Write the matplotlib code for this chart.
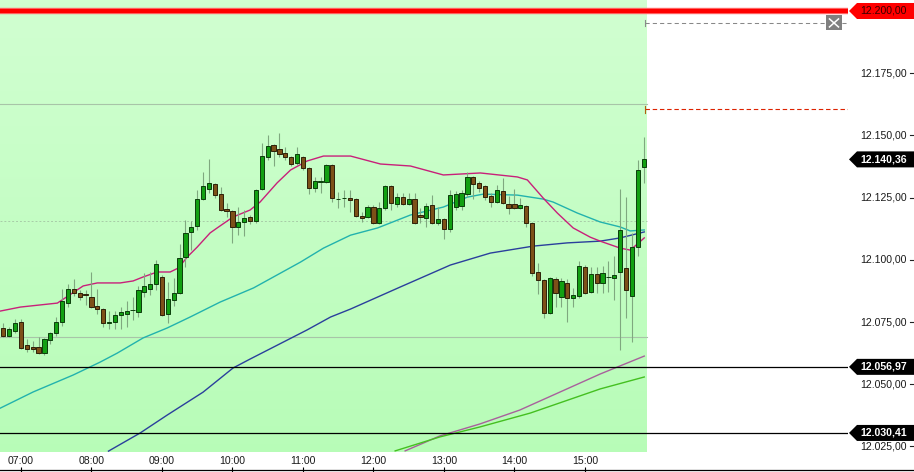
import numpy as np
import pandas as pd
import matplotlib
matplotlib.use('Agg')
import matplotlib.pyplot as plt
import matplotlib.transforms as mtransforms
from matplotlib.patches import Polygon, Rectangle
from matplotlib.lines import Line2D

plt.rcParams['font.family'] = ['Liberation Sans', 'DejaVu Sans']

# ---------------- data ----------------
start_time = '06:45'
bar_minutes = 5

opens = [12072.4, 12069.2, 12071.2, 12074.8, 12065.6, 12064.8, 12064.8, 12062.4, 12067.6, 12070.4,
         12074.8, 12082.8, 12088.4, 12086.8, 12086.2, 12085.2, 12081.6, 12080.4, 12074.4, 12075.2,
         12078.0, 12078.4, 12079.8, 12079.2, 12087.2, 12088.4, 12090.4, 12093.2, 12078.4, 12084.0,
         12086.8, 12101.2, 12111.2, 12113.6, 12124.4, 12128.4, 12130.4, 12126.4, 12120.4, 12119.6,
         12113.2, 12115.2, 12117.2, 12115.6, 12128.4, 12141.2, 12146.0, 12144.4, 12142.8, 12141.2,
         12138.8, 12141.2, 12136.8, 12128.8, 12131.2, 12131.2, 12138.0, 12124.4, 12124.8, 12124.8,
         12124.4, 12117.6, 12117.2, 12121.2, 12114.8, 12120.8, 12129.6, 12122.4, 12125.2, 12122.4,
         12124.4, 12118.0, 12116.8, 12122.0, 12114.8, 12116.4, 12112.4, 12121.2, 12121.6, 12126.4,
         12133.2, 12130.8, 12129.6, 12125.6, 12123.2, 12127.6, 12122.4, 12122.4, 12120.8, 12121.6,
         12114.8, 12095.2, 12092.0, 12078.8, 12092.4, 12085.2, 12090.8, 12084.8, 12085.6, 12097.2,
         12087.2, 12094.4, 12090.8, 12093.2, 12092.8, 12095.2, 12096.8, 12085.6, 12105.2, 12137.2]
highs = [12074.4, 12072.8, 12076.4, 12076.4, 12068.0, 12067.2, 12068.8, 12068.4, 12070.8, 12077.2,
         12088.4, 12090.4, 12092.4, 12088.0, 12088.0, 12095.2, 12088.4, 12080.8, 12079.6, 12079.6,
         12081.2, 12083.6, 12085.2, 12089.6, 12094.8, 12095.2, 12100.0, 12094.0, 12091.2, 12092.8,
         12106.4, 12116.0, 12115.6, 12128.0, 12135.2, 12140.4, 12130.8, 12129.2, 12122.8, 12120.0,
         12121.2, 12120.0, 12118.0, 12128.4, 12146.8, 12150.0, 12146.4, 12150.8, 12145.2, 12141.6,
         12145.2, 12141.6, 12137.2, 12133.2, 12133.2, 12138.4, 12138.4, 12127.2, 12128.0, 12128.0,
         12124.8, 12119.2, 12122.0, 12122.0, 12123.2, 12130.0, 12130.0, 12126.8, 12126.8, 12126.8,
         12126.8, 12120.8, 12122.8, 12126.0, 12121.2, 12116.8, 12128.0, 12127.6, 12128.0, 12135.2,
         12133.6, 12131.6, 12130.0, 12126.8, 12130.0, 12132.8, 12125.6, 12128.4, 12124.8, 12122.0,
         12115.2, 12098.8, 12092.4, 12093.2, 12093.2, 12092.8, 12092.4, 12088.8, 12099.6, 12098.0,
         12097.2, 12097.2, 12097.6, 12099.6, 12101.6, 12128.4, 12125.2, 12110.8, 12140.0, 12149.2]
lows = [12068.8, 12068.8, 12070.4, 12064.0, 12062.8, 12062.8, 12062.0, 12061.6, 12066.0, 12069.2,
        12073.2, 12081.2, 12085.6, 12084.0, 12082.0, 12080.8, 12078.4, 12072.8, 12072.0, 12072.0,
        12072.0, 12072.8, 12076.0, 12077.2, 12085.2, 12086.0, 12088.0, 12077.6, 12074.4, 12081.6,
        12086.4, 12097.2, 12104.0, 12112.0, 12124.0, 12126.8, 12124.8, 12119.6, 12117.2, 12106.8,
        12110.0, 12109.6, 12114.4, 12114.8, 12128.0, 12140.0, 12137.6, 12141.2, 12140.0, 12137.6,
        12138.0, 12136.0, 12126.4, 12127.2, 12126.8, 12130.8, 12123.2, 12120.8, 12121.2, 12119.2,
        12117.2, 12115.2, 12116.8, 12114.4, 12114.4, 12120.0, 12120.0, 12121.2, 12122.0, 12122.0,
        12114.4, 12114.8, 12113.2, 12114.4, 12114.0, 12108.4, 12111.2, 12120.0, 12120.0, 12125.2,
        12124.4, 12127.2, 12124.0, 12121.2, 12122.8, 12122.4, 12118.4, 12120.4, 12120.4, 12113.2,
        12093.6, 12086.4, 12076.8, 12078.4, 12081.2, 12081.2, 12075.2, 12081.2, 12084.8, 12086.4,
        12086.8, 12086.8, 12086.8, 12087.2, 12084.0, 12063.6, 12076.8, 12066.8, 12101.6, 12130.8]
closes = [12069.2, 12072.0, 12074.4, 12064.4, 12064.0, 12064.0, 12062.4, 12068.0, 12070.4, 12074.8,
          12083.6, 12088.4, 12086.8, 12085.2, 12086.0, 12081.2, 12080.4, 12074.4, 12075.2, 12078.0,
          12079.2, 12079.6, 12080.0, 12088.0, 12089.6, 12090.4, 12098.4, 12078.0, 12084.4, 12086.8,
          12100.8, 12110.8, 12113.2, 12124.4, 12129.6, 12130.8, 12126.0, 12120.0, 12119.6, 12113.2,
          12115.2, 12116.8, 12115.6, 12128.0, 12141.6, 12145.6, 12143.6, 12142.4, 12141.2, 12138.4,
          12142.4, 12136.8, 12128.8, 12131.6, 12131.6, 12138.0, 12124.8, 12124.4, 12124.8, 12124.0,
          12117.6, 12116.8, 12121.2, 12114.8, 12120.8, 12129.6, 12122.8, 12125.2, 12122.4, 12124.4,
          12114.8, 12117.2, 12121.6, 12114.8, 12116.4, 12112.4, 12126.0, 12126.4, 12126.8, 12133.2,
          12130.4, 12128.8, 12125.2, 12123.2, 12128.0, 12122.8, 12120.8, 12120.8, 12122.0, 12114.8,
          12094.8, 12092.0, 12078.8, 12092.8, 12086.8, 12091.6, 12084.8, 12086.0, 12097.6, 12086.8,
          12094.4, 12090.8, 12094.8, 12093.2, 12094.0, 12112.0, 12088.0, 12105.2, 12136.0, 12140.36]

# moving averages (bar position, price)
ma_fast_x = [-0.5, 2.9, 9.2, 13.6, 16.0, 19.9, 22.1, 23.8, 26.2, 28.4, 29.8, 31.3, 33.0, 35.2, 36.4,
             39.1, 42.0, 43.7, 46.6, 48.9, 51.7, 54.5, 59.1, 64.2, 69.3, 74.9, 81.2, 87.5, 89.2, 91.9,
             94.3, 97.0, 99.9, 101.6, 105.0, 106.7, 108.1, 109.1]
ma_fast_y = [12079.4, 12081.0, 12082.6, 12089.5, 12090.7, 12090.7, 12091.5, 12093.1, 12095.1, 12095.1,
             12096.7, 12101.1, 12105.1, 12110.8, 12112.8, 12117.2, 12120.0, 12123.2, 12130.9, 12136.1,
             12139.7, 12141.7, 12141.7, 12138.5, 12137.7, 12134.1, 12134.9, 12133.3, 12132.1, 12124.8,
             12118.8, 12112.8, 12109.1, 12107.5, 12104.7, 12103.9, 12106.7, 12108.8]
ma_mid_x = [-0.5, 5.1, 11.9, 16.5, 19.4, 23.8, 27.9, 31.8, 36.9, 42.6, 46.6, 50.6, 54.5, 59.1, 63.7,
            69.3, 74.9, 79.0, 81.7, 87.5, 91.9, 93.6, 97.7, 101.6, 105.0, 106.7, 109.1]
ma_mid_y = [12040.4, 12046.9, 12053.7, 12058.9, 12062.5, 12068.6, 12072.6, 12077.0, 12083.0, 12088.7,
            12093.9, 12099.1, 12104.7, 12109.9, 12112.8, 12118.0, 12121.2, 12125.2, 12126.4, 12126.0,
            12124.4, 12123.2, 12118.8, 12115.2, 12113.2, 12111.6, 12112.0]
ma_slow_x = [17.9, 23.3, 27.9, 34.0, 39.1, 42.0, 51.7, 55.7, 59.1, 67.6, 76.1, 82.9, 90.2, 96.0,
             101.6, 105.0, 109.1]
ma_slow_y = [12023.1, 12030.4, 12037.6, 12046.8, 12056.5, 12060.1, 12071.8, 12077.0, 12080.2,
             12089.1, 12097.9, 12102.7, 12105.5, 12106.8, 12107.5, 12108.8, 12111.2]
ma_long1_x = [68.4, 74.3, 81.1, 87.9, 94.8, 101.6, 109.1]
ma_long1_y = [12023.2, 12029.2, 12034.0, 12039.6, 12046.9, 12054.1, 12061.3]
ma_long2_x = [66.7, 74.3, 81.1, 89.7, 101.6, 109.1]
ma_long2_y = [12023.2, 12028.8, 12032.8, 12038.4, 12048.1, 12052.9]

price_ticks = [12025, 12050, 12075, 12100, 12125, 12150, 12175, 12200]
red_level = 12200.0
order_level_grey = 12195.2
order_level_red = 12160.6
black_levels = [12056.97, 12030.41]
last_price = closes[-1]
faint_solid_levels = [12162.6, 12069.0]
faint_dotted_level = 12115.6

# ---------------- layout ----------------
W, H = 914, 472
fig = plt.figure(figsize=(W / 100, H / 100), dpi=100)
PLOT_R = 848
PLOT_B = 20
ax = fig.add_axes([0, PLOT_B / H, PLOT_R / W, (H - PLOT_B) / H])
ax.set_axis_off()
step = 5.875
x0px = 3.3
idx = np.arange(len(opens))
ax.set_xlim(-x0px / step, (PLOT_R - x0px) / step)
y_top, y_bot = 12204.42, 12022.75
ax.set_ylim(y_bot, y_top)
ppx = (y_top - y_bot) / (H - PLOT_B)  # price per pixel

trf = mtransforms.blended_transform_factory(fig.transFigure, ax.transData)

# green session background with gradient
green_end = idx[-1] + 0.55
top_c = np.array([0.82, 1.0, 0.82])
bot_c = np.array([0.72, 0.99, 0.72])
t = np.linspace(0, 1, 256).reshape(-1, 1, 1)
grad = top_c * (1 - t) + bot_c * t
ax.imshow(grad, extent=[-x0px / step, green_end, y_bot, y_top], aspect='auto',
          origin='upper', zorder=0, interpolation='bilinear')

# faint lines in the session area
for lv in faint_solid_levels:
    ax.plot([-x0px / step, green_end], [lv, lv], color='#a8c4a8', lw=0.8, zorder=1)
ax.plot([-x0px / step, green_end], [faint_dotted_level] * 2, color='#a8cca8', lw=0.7,
        ls=(0, (2, 2)), zorder=1)

# moving averages
ax.plot(ma_slow_x, ma_slow_y, color='#2a3f9c', lw=1.0, zorder=2)
ax.plot(ma_mid_x, ma_mid_y, color='#22b2ad', lw=1.0, zorder=2)
ax.plot(ma_fast_x, ma_fast_y, color='#c8207a', lw=1.0, zorder=2)
ax.plot(ma_long1_x, ma_long1_y, color='#a8609c', lw=1.0, zorder=2)
ax.plot(ma_long2_x, ma_long2_y, color='#44c020', lw=1.0, zorder=2)

# candles
o = np.array(opens); h = np.array(highs); l = np.array(lows); c = np.array(closes)
up = c >= o
ax.vlines(idx, l, h, color='#7fa87f', lw=0.8, zorder=3)
body_w = 4.2 / step
ax.bar(idx[up], np.maximum(c[up] - o[up], 0.01), bottom=o[up], width=body_w,
       color='#12a012', edgecolor='#0b3d0b', lw=0.7, zorder=4)
ax.bar(idx[~up], np.maximum(o[~up] - c[~up], 0.01), bottom=c[~up], width=body_w,
       color='#7d5018', edgecolor='#2e2008', lw=0.7, zorder=4)

# horizontal levels
ax.axhline(red_level, color='#ff6a6a', lw=4.6, zorder=5)
ax.axhline(red_level, color='#ff0000', lw=3.0, zorder=5)
for lv in black_levels:
    ax.axhline(lv, color='black', lw=0.9, zorder=5)

x_ord0 = green_end - 0.35
ax.plot([x_ord0, ax.get_xlim()[1]], [order_level_grey] * 2, color='#888888', lw=0.75,
        ls=(0, (4, 3)), zorder=5)
ax.plot([x_ord0, x_ord0], [order_level_grey - 3 * ppx, order_level_grey + 3 * ppx],
        color='#8a8a8a', lw=0.8, zorder=5)
ax.plot([x_ord0, ax.get_xlim()[1]], [order_level_red] * 2, color='#dd2200', lw=0.8,
        ls=(0, (4, 2.5)), zorder=5)
ax.plot([x_ord0, x_ord0], [order_level_red - 3.5 * ppx, order_level_red + 3.5 * ppx],
        color='#b06010', lw=0.8, zorder=5)

# close button on the order line
bx0, bx1 = 826 / W, 842 / W
by0, by1 = order_level_grey - 7.5 * ppx, order_level_grey + 7.5 * ppx
ax.add_patch(Rectangle((bx0, by0), bx1 - bx0, by1 - by0, transform=trf, facecolor='#808080',
                       edgecolor='none', zorder=8, clip_on=False))
for (xa, ya, xb, yb) in [(bx0 + 3.5 / W, by0 + 3.5 * ppx, bx1 - 3.5 / W, by1 - 3.5 * ppx),
                         (bx0 + 3.5 / W, by1 - 3.5 * ppx, bx1 - 3.5 / W, by0 + 3.5 * ppx)]:
    ax.add_line(Line2D([xa, xb], [ya, yb], transform=trf, color='white', lw=1.1, zorder=9,
                       clip_on=False))


def fmt(p):
    s = f"{p:,.2f}"
    return s.replace(',', 'X').replace('.', ',').replace('X', '.')


# right price scale
for p in price_ticks:
    ax.text(907 / W, p, fmt(p), transform=trf, ha='right', va='center', fontsize=7.6,
            color='#1a1a1a', zorder=6, clip_on=False)
    ax.add_line(Line2D([910 / W, 914 / W], [p, p], transform=trf, color='#222222', lw=0.8,
                       zorder=6, clip_on=False))


def tag(price, face, tcolor, weight):
    hh = 8 * ppx
    verts = [(849 / W, price), (857 / W, price + hh), (914 / W, price + hh),
             (914 / W, price - hh), (857 / W, price - hh)]
    ax.add_patch(Polygon(verts, closed=True, transform=trf, facecolor=face, edgecolor='none',
                         zorder=10, clip_on=False))
    ax.text(907 / W, price, fmt(price), transform=trf, ha='right', va='center',
            fontsize=7.6, color=tcolor, fontweight=weight, zorder=11, clip_on=False)


tag(red_level, '#ff0000', '#3a0000', 'normal')
tag(last_price, '#000000', 'white', 'bold')
for lv in black_levels:
    tag(lv, '#000000', 'white', 'bold')

# time axis
axb = fig.add_axes([0, 0, 1, PLOT_B / H])
axb.set_axis_off()
axb.set_xlim(-x0px / step, (W - x0px) / step)
axb.set_ylim(0, PLOT_B)
times = pd.date_range(f'2024-01-01 {start_time}', periods=len(opens), freq=f'{bar_minutes}min')
hour_idx = [i for i, tt in enumerate(times) if tt.minute == 0]
axb.axhline(2, color='black', lw=0.9)
axb.vlines(hour_idx, 0, 5, color='black', lw=0.8)
for i in hour_idx:
    axb.text(i, 10.5, times[i].strftime('%H:%M'), ha='center', va='center', fontsize=7.6,
             color='#1a1a1a')

fig.savefig('out.png', dpi=100)
